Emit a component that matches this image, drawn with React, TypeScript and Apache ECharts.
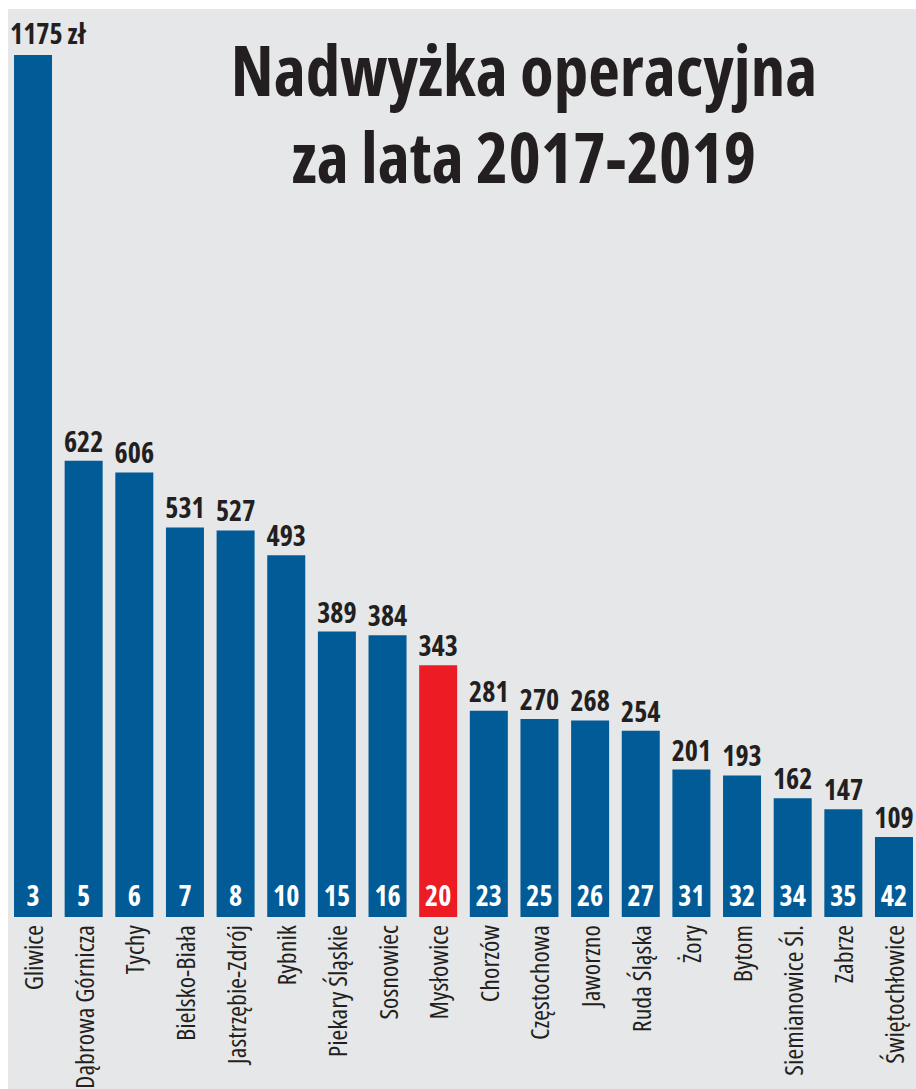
import React, { useEffect, useRef } from "react";
import * as echarts from "echarts";

const cities = [
  "Gliwice",
  "Dąbrowa Górnicza",
  "Tychy",
  "Bielsko-Biała",
  "Jastrzębie-Zdrój",
  "Rybnik",
  "Piekary Śląskie",
  "Sosnowiec",
  "Mysłowice",
  "Chorzów",
  "Częstochowa",
  "Jaworzno",
  "Ruda Śląska",
  "Żory",
  "Bytom",
  "Siemianowice Śl.",
  "Zabrze",
  "Świętochłowice",
];
const values = [1175, 622, 606, 531, 527, 493, 389, 384, 343, 281, 270, 268, 254, 201, 193, 162, 147, 109];
const ranks = [3, 5, 6, 7, 8, 10, 15, 16, 20, 23, 25, 26, 27, 31, 32, 34, 35, 42];
const highlighted = "Mysłowice";
const titleLines = ["Nadwyżka operacyjna", "za lata 2017-2019"];
const unit = "zł";

// Open Sans (variable width axis) in its condensed width
const FONT = "'Open Sans'; font-stretch: condensed";
const BLUE = "#005b96";
const RED = "#ed1c24";
const INK = "#231f20";
const BG = "#e6e7e8";

export default function App() {
  const ref = useRef<HTMLDivElement>(null);

  useEffect(() => {
    if (!ref.current) return;
    const chart = echarts.init(ref.current, undefined, { renderer: "svg" });
    const titleStyle = {
      fill: INK,
      fontSize: 69,
      fontWeight: "bold",
      fontFamily: FONT,
      lineHeight: 69,
      align: "center",
      verticalAlign: "middle",
    };
    const option = {
      animation: false,
      backgroundColor: "#ffffff",
      graphic: [
        {
          type: "rect",
          z: -10,
          silent: true,
          shape: { x: 8, y: 9, width: 908, height: 1080 },
          style: { fill: BG },
        },
        {
          type: "text",
          x: 524,
          y: 69,
          z: 10,
          style: { ...titleStyle, text: titleLines[0] },
        },
        {
          type: "text",
          x: 524,
          y: 156,
          z: 10,
          style: { ...titleStyle, text: titleLines[1] },
        },
      ],
      grid: { left: 7.7, top: 55, width: 911.6, height: 862, containLabel: false, outerBoundsMode: "none" },
      xAxis: {
        type: "category",
        data: cities,
        axisLine: { show: false },
        axisTick: { show: false },
        axisLabel: {
          rotate: 90,
          interval: 0,
          margin: 8,
          fontSize: 26,
          lineHeight: 26,
          fontWeight: "normal",
          fontFamily: FONT,
          color: INK,
        },
      },
      yAxis: {
        type: "value",
        min: 0,
        max: 1175,
        show: false,
        splitLine: { show: false },
      },
      series: [
        {
          type: "bar",
          barWidth: 38,
          data: values.map((v, i) => ({
            value: v,
            itemStyle: { color: cities[i] === highlighted ? RED : BLUE },
            label:
              i === 0
                ? { formatter: `{c} ${unit}`, align: "left", offset: [-23, -2] }
                : undefined,
          })),
          label: {
            show: true,
            position: "top",
            distance: 6,
            fontSize: 28,
            lineHeight: 28,
            fontWeight: "bold",
            fontFamily: FONT,
            color: INK,
          },
        },
        {
          type: "bar",
          barWidth: 38,
          barGap: "-100%",
          silent: true,
          z: 5,
          data: values,
          itemStyle: { color: "transparent" },
          label: {
            show: true,
            position: "insideBottom",
            distance: 8,
            fontSize: 28,
            lineHeight: 28,
            fontWeight: "bold",
            fontFamily: FONT,
            color: "#ffffff",
            formatter: (p: any) => String(ranks[p.dataIndex]),
          },
        },
      ],
    };
    chart.setOption(option as any);
    return () => chart.dispose();
  }, []);

  return (
    <div
      ref={ref}
      style={{ position: "absolute", left: 0, top: 0, width: 916, height: 1089 }}
    />
  );
}
